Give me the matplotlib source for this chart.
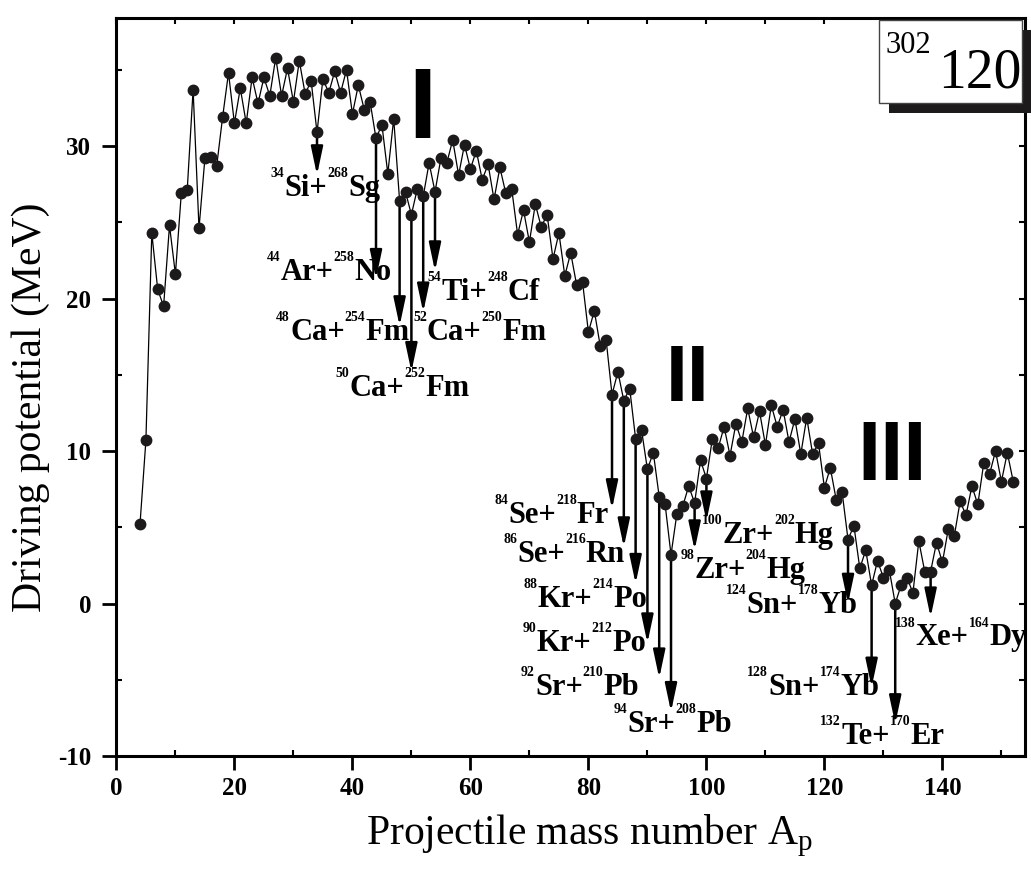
import matplotlib
matplotlib.use("Agg")
import matplotlib.pyplot as plt
from matplotlib.patches import Rectangle
from matplotlib.ticker import MultipleLocator

plt.rcParams['font.family'] = 'Liberation Serif'
plt.rcParams['axes.unicode_minus'] = False
plt.rcParams['mathtext.fontset'] = 'custom'
plt.rcParams['mathtext.sf'] = 'Liberation Serif'

# driving potential of 302-120 for every projectile mass number
mass = list(range(4, 153))
potential = [
    5.2, 10.7, 24.3, 20.6, 19.5, 24.8, 21.6, 26.9, 27.1, 33.7,      # 4-13
    24.6, 29.2, 29.3, 28.7, 31.9, 34.8, 31.5, 33.8, 31.5, 34.5,     # 14-23
    32.8, 34.5, 33.3, 35.8, 33.3, 35.1, 32.9, 35.6, 33.4, 34.3,     # 24-33
    30.9, 34.4, 33.5, 34.9, 33.5, 35.0, 32.1, 34.0, 32.4, 32.9,     # 34-43
    30.5, 31.4, 28.2, 31.8, 26.4, 27.0, 25.5, 27.2, 26.7, 28.9,     # 44-53
    27.0, 29.2, 28.9, 30.4, 28.1, 30.1, 28.5, 29.7, 27.8, 28.8,     # 54-63
    26.5, 28.6, 26.9, 27.2, 24.2, 25.8, 23.7, 26.2, 24.7, 25.5,     # 64-73
    22.6, 24.3, 21.5, 23.0, 20.9, 21.1, 17.8, 19.2, 16.9, 17.3,     # 74-83
    13.7, 15.2, 13.3, 14.1, 10.8, 11.4, 8.8, 9.9, 7.0, 6.5,         # 84-93
    3.2, 5.9, 6.4, 7.7, 6.6, 9.4, 8.2, 10.8, 10.2, 11.6,            # 94-103
    9.7, 11.8, 10.6, 12.8, 10.9, 12.6, 10.4, 13.0, 11.6, 12.7,      # 104-113
    10.6, 12.1, 9.8, 12.2, 9.8, 10.5, 7.6, 8.9, 6.8, 7.3,           # 114-123
    4.2, 5.1, 2.3, 3.5, 1.2, 2.8, 1.7, 2.2, 0.0, 1.2,               # 124-133
    1.7, 0.7, 4.1, 2.1, 2.1, 4.0, 2.7, 4.9, 4.4, 6.7,               # 134-143
    5.8, 7.7, 6.5, 9.2, 8.5, 10.0, 8.0, 9.9, 8.0,                   # 144-152
]

# marked entrance channels
arrow_a = [34, 44, 48, 50, 52, 54, 84, 86, 88, 90, 92, 94, 98, 100, 124, 128, 132, 138]
arrow_end = [28.1, 21.3, 18.2, 15.2, 19.1, 21.8, 6.2, 3.7, 1.3, -2.6, -4.9, -7.1,
             3.5, 5.4, 0.0, -5.5, -7.9, -0.9]
projectiles = [("34", "Si"), ("44", "Ar"), ("48", "Ca"), ("50", "Ca"), ("52", "Ca"),
               ("54", "Ti"), ("84", "Se"), ("86", "Se"), ("88", "Kr"), ("90", "Kr"),
               ("92", "Sr"), ("94", "Sr"), ("98", "Zr"), ("100", "Zr"), ("124", "Sn"),
               ("128", "Sn"), ("132", "Te"), ("138", "Xe")]
targets = [("268", "Sg"), ("258", "No"), ("254", "Fm"), ("252", "Fm"), ("250", "Fm"),
           ("248", "Cf"), ("218", "Fr"), ("216", "Rn"), ("214", "Po"), ("212", "Po"),
           ("210", "Pb"), ("208", "Pb"), ("204", "Hg"), ("202", "Hg"), ("178", "Yb"),
           ("174", "Yb"), ("170", "Er"), ("164", "Dy")]
label_x = [35.4, 36.1, 38.4, 48.5, 61.6, 62.3, 73.8, 75.9, 79.5, 79.3, 78.6, 94.3,
           106.2, 110.4, 114.5, 118.1, 129.8, 143.1]
label_y = [26.7, 21.2, 17.3, 13.6, 17.3, 19.9, 5.3, 2.7, -0.25, -3.1, -6.0, -8.45,
           1.7, 4.0, -0.6, -6.0, -9.2, -2.75]

# region markers
regions = ["I", "II", "III"]
region_x = [51.8, 96.8, 131.5]
region_y = [30.5, 13.3, 8.1]
region_size = [73, 57, 60]


fig = plt.figure(figsize=(10.31, 8.71), dpi=100)
ax = fig.add_axes([0.1129, 0.132, 0.8813, 0.8473])

ax.plot(mass, potential, color='black', lw=0.9, marker='o', ms=7.5,
        mfc='#1c1a1a', mec='#1c1a1a', zorder=5)

ax.set_xlim(0, 154)
ax.set_ylim(-10, 38.4)

for a, end in zip(arrow_a, arrow_end):
    start = potential[mass.index(a)]
    ax.annotate('', xy=(a, end), xytext=(a, start),
                arrowprops=dict(arrowstyle='-|>,head_length=0.85,head_width=0.18',
                                mutation_scale=20, lw=1.8, color='black',
                                shrinkA=0, shrinkB=0), zorder=3)

renderer = fig.canvas.get_renderer()


def isotope_label(x, y, parts, size=22):
    # pieces laid out left to right, superscripts raised, then centred on x
    pieces = []
    dx = 0.0
    for s, sup in parts:
        fs = size * 0.45 if sup else size
        dy = size * 0.62 if sup else 0
        t = ax.annotate(s, (x, y), xytext=(dx, dy), textcoords='offset points',
                        fontsize=fs, fontweight='bold', ha='left', va='baseline')
        dx += t.get_window_extent(renderer).width * 72 / fig.dpi
        pieces.append(t)
    for t in pieces:
        t.xyann = (t.xyann[0] - dx / 2, t.xyann[1])


for (pa, ps), (ta, ts), lx, ly in zip(projectiles, targets, label_x, label_y):
    isotope_label(lx, ly, [(pa, True), (ps + "+", False), (ta, True), (ts, False)])

for r, rx, ry, rs in zip(regions, region_x, region_y, region_size):
    ax.text(rx, ry, r, fontsize=rs, fontweight='bold', family='Liberation Sans',
            ha='center', va='baseline')

# axes styling
for sp in ax.spines.values():
    sp.set_linewidth(2.2)
ax.xaxis.set_major_locator(MultipleLocator(20))
ax.xaxis.set_minor_locator(MultipleLocator(10))
ax.yaxis.set_major_locator(MultipleLocator(10))
ax.yaxis.set_minor_locator(MultipleLocator(5))
ax.tick_params(which='major', direction='out', length=10, width=2, labelsize=18)
ax.tick_params(axis='y', which='major', pad=8)
ax.tick_params(axis='x', which='major', pad=5)
ax.tick_params(which='minor', direction='in', length=4, width=1.5)
for lab in ax.get_xticklabels() + ax.get_yticklabels():
    lab.set_fontweight('bold')

top = ax.secondary_xaxis('top')
top.xaxis.set_major_locator(MultipleLocator(10))
top.tick_params(direction='in', length=4, width=1.5, labeltop=False)
right = ax.secondary_yaxis('right')
right.yaxis.set_major_locator(MultipleLocator(5))
right.tick_params(direction='in', length=4, width=1.5, labelright=False)

ax.set_xlabel(r"Projectile mass number A$_\mathsf{p}$", fontsize=30)
ax.xaxis.set_label_coords(0.521, -0.076)
ax.set_ylabel("Driving potential (MeV)", fontsize=30)
ax.yaxis.set_label_coords(-0.073, 0.473)

# compound nucleus tag with drop shadow
fig.patches.append(Rectangle((0.8623, 0.8703), 0.1377, 0.0953, transform=fig.transFigure,
                             facecolor='#1c1a1a', edgecolor='none', zorder=10))
fig.patches.append(Rectangle((0.8526, 0.8817), 0.1387, 0.0953, transform=fig.transFigure,
                             facecolor='white', edgecolor='#444444', lw=1, zorder=11))
fig.text(0.8584, 0.939, "302", fontsize=22, va='baseline', ha='left', zorder=12)
fig.text(0.9098, 0.900, "120", fontsize=40, va='baseline', ha='left', zorder=12)

fig.savefig("out.png", dpi=100)
